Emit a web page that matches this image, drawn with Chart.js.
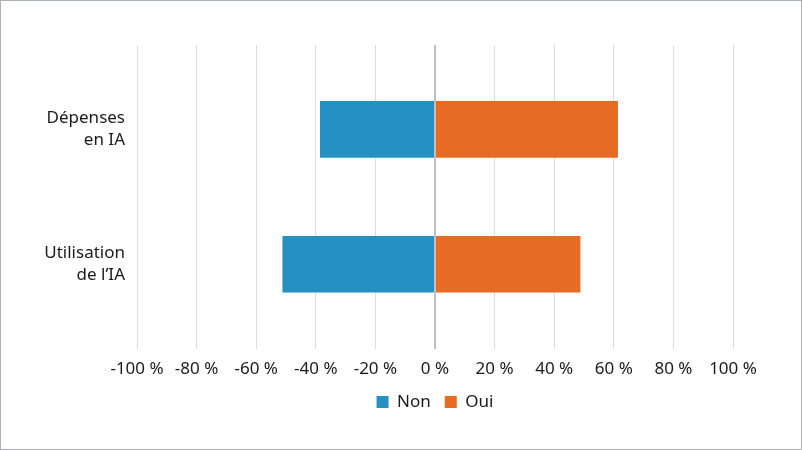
<!DOCTYPE html>
<html>
<head>
<meta charset="utf-8">
<script src="https://cdn.jsdelivr.net/npm/chart.js@4"></script>
<style>
  html, body { margin:0; padding:0; background:#fff; }
  #wrap { width:802px; height:450px; box-sizing:border-box; border:1px solid #aab1bb; position:relative; }
  #c { display:block; }
</style>
</head>
<body>
<div id="wrap"><canvas id="c" width="800" height="448"></canvas></div>
<script>
const categories = [['Dépenses', 'en IA'], ['Utilisation', 'de l’IA']];
const seriesNames = ['Non', 'Oui'];
const nonValues = [-38.6, -51.2];
const ouiValues = [61.4, 48.8];
const xTicks = [-100, -80, -60, -40, -20, 0, 20, 40, 60, 80, 100];

const FONT = '"Noto Sans", Lato, sans-serif';
const TEXT = '#1a1a1a';

function toPoints(vals) { return vals.map((v, i) => ({ x: v, y: i })); }

const legendOnPlot = {
  id: 'legendOnPlot',
  afterLayout(chart) {
    const l = chart.legend, ca = chart.chartArea;
    if (!l) return;
    l.left = ca.left; l.right = ca.right; l.width = ca.right - ca.left;
    l.top = ca.bottom + 31; l.bottom = l.top + 40;
  }
};

new Chart(document.getElementById('c'), {
  type: 'bar',
  data: {
    datasets: [
      { label: seriesNames[0], data: toPoints(nonValues), backgroundColor: '#2790c3', borderWidth: 0 },
      { label: seriesNames[1], data: toPoints(ouiValues), backgroundColor: '#e66b25', borderWidth: 0 }
    ]
  },
  plugins: [legendOnPlot],
  options: {
    indexAxis: 'y',
    responsive: false,
    animation: false,
    devicePixelRatio: 1,
    layout: { padding: { top: 44, right: 68, bottom: 19, left: 10 } },
    datasets: { bar: { categoryPercentage: 1, barPercentage: 0.42 } },
    scales: {
      x: {
        type: 'linear',
        stacked: true,
        min: -100, max: 100,
        afterBuildTicks: s => { s.ticks = xTicks.map(v => ({ value: v })); },
        ticks: {
          callback: v => v + ' %',
          color: TEXT,
          font: { family: FONT, size: 17 },
          padding: 10,
          maxRotation: 0, autoSkip: false
        },
        grid: {
          drawTicks: false,
          color: ctx => (ctx.tick && ctx.tick.value === 0) ? '#bcc1c8' : '#dcdcdc',
          lineWidth: ctx => (ctx.tick && ctx.tick.value === 0) ? 2 : 1
        },
        border: { display: false }
      },
      y: {
        type: 'linear',
        stacked: true,
        reverse: true,
        offset: false,
        min: -0.625, max: 1.625,
        afterBuildTicks: s => { s.ticks = categories.map((c, i) => ({ value: i })); },
        afterFit: s => { s.width = 126; },
        ticks: {
          callback: v => categories[v],
          color: TEXT,
          font: { family: FONT, size: 17, lineHeight: 1.3 },
          padding: 12,
          autoSkip: false
        },
        grid: { display: false, drawTicks: false },
        border: { display: false }
      }
    },
    plugins: {
      legend: {
        position: 'bottom',
        labels: {
          color: TEXT,
          font: { family: FONT, size: 17 },
          boxWidth: 12, boxHeight: 12,
          padding: 14
        }
      },
      tooltip: { enabled: false }
    }
  }
});
</script>
</body>
</html>
